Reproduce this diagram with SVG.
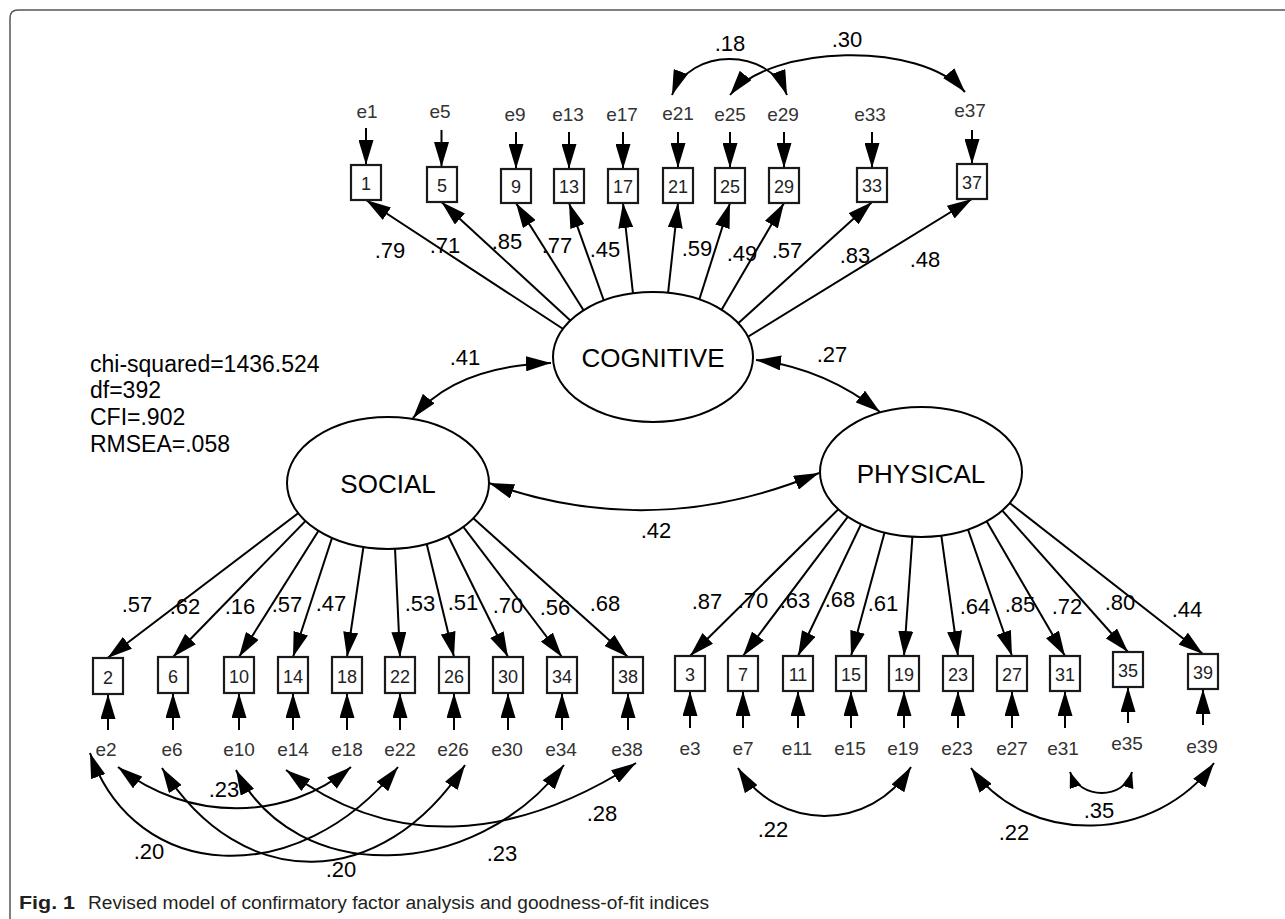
<svg xmlns="http://www.w3.org/2000/svg" width="1285" height="919" viewBox="0 0 1285 919">
<defs>
<marker id="ah" viewBox="0 0 25 15" refX="25" refY="7.5" markerWidth="25" markerHeight="15" markerUnits="userSpaceOnUse" orient="auto-start-reverse"><path d="M0,0 L25,7.5 L0,15 Z" fill="#000"/></marker>
<marker id="ahs" viewBox="0 0 16 12" refX="16" refY="6" markerWidth="16" markerHeight="12" markerUnits="userSpaceOnUse" orient="auto-start-reverse"><path d="M0,0 L16,6 L0,12 Z" fill="#000"/></marker>
<style>
.frame{fill:none;stroke:#555;stroke-width:1.5}
.ln{fill:none;stroke:#000;stroke-width:2}
.arr{marker-end:url(#ah)}
.cov{marker-start:url(#ah);marker-end:url(#ah)}
.covs{marker-start:url(#ahs);marker-end:url(#ahs)}
.box{fill:#fff;stroke:#1a1a1a;stroke-width:2.2}
.lat{fill:#fff;stroke:#000;stroke-width:2}
text{font-family:"Liberation Sans",Arial,sans-serif}
.tb{font-size:18px;fill:#222;text-anchor:middle}
.te{font-size:19px;fill:#333;text-anchor:middle}
.tw{font-size:22px;fill:#000;text-anchor:middle}
.tl{font-size:26px;fill:#000;text-anchor:middle}
.ts{font-size:23px;fill:#000}
.cap{font-size:18px;fill:#231f20}
</style>
</defs>
<rect width="1285" height="919" fill="#fff"/>
<path class="frame" d="M10,919 L10,18 Q10,10 18,10 L1285,10"/>

<g id="connectors">
<path class="ln arr" d="M366,128 V165"/>
<path class="ln arr" d="M441.5,130 V167"/>
<path class="ln arr" d="M516,132 V169"/>
<path class="ln arr" d="M569,132 V169"/>
<path class="ln arr" d="M623,132 V169"/>
<path class="ln arr" d="M678,132 V168"/>
<path class="ln arr" d="M730,132 V168"/>
<path class="ln arr" d="M784,132 V168"/>
<path class="ln arr" d="M872,132 V168"/>
<path class="ln arr" d="M972,130 V164"/>
<path class="ln arr" d="M606,357 L366,200"/>
<path class="ln arr" d="M610,357 L441.5,202"/>
<path class="ln arr" d="M613,357 L516,203"/>
<path class="ln arr" d="M624,357 L569,203"/>
<path class="ln arr" d="M640,357 L623,203"/>
<path class="ln arr" d="M661,357 L678,203"/>
<path class="ln arr" d="M681,357 L730,203"/>
<path class="ln arr" d="M694,357 L784,203"/>
<path class="ln arr" d="M701,357 L872,202"/>
<path class="ln arr" d="M715,357 L972,199"/>
<path class="ln cov" d="M672,95 C690,47 769,47 787,95"/>
<path class="ln cov" d="M730,95 C770,45 920,40 965,92"/>
<path class="ln cov" d="M413,418 Q455,366 551,363"/>
<path class="ln cov" d="M756,360 Q824,368 880,412"/>
<path class="ln cov" d="M489,483 Q654,542 819,473"/>
<path class="ln arr" d="M338,483 L107.5,658"/>
<path class="ln arr" d="M342.5,483 L173,657"/>
<path class="ln arr" d="M348.6,483 L239,657"/>
<path class="ln arr" d="M350,483 L293,657"/>
<path class="ln arr" d="M373,483 L347,657"/>
<path class="ln arr" d="M392,483 L400,657"/>
<path class="ln arr" d="M412,483 L454,657"/>
<path class="ln arr" d="M422,483 L508,657"/>
<path class="ln arr" d="M430,483 L562,657"/>
<path class="ln arr" d="M434,483 L628,657"/>
<path class="ln arr" d="M876,472 L690,656"/>
<path class="ln arr" d="M881.5,472 L743,656"/>
<path class="ln arr" d="M886,472 L798,656"/>
<path class="ln arr" d="M901,472 L851,656"/>
<path class="ln arr" d="M917,472 L904,656"/>
<path class="ln arr" d="M932.5,472 L958,656"/>
<path class="ln arr" d="M948,472 L1012,656"/>
<path class="ln arr" d="M958,472 L1065,656"/>
<path class="ln arr" d="M968,472 L1128,652"/>
<path class="ln arr" d="M970,472 L1203,654"/>
<path class="ln arr" d="M108,730 V694"/>
<path class="ln arr" d="M173,730 V693"/>
<path class="ln arr" d="M239,730 V693"/>
<path class="ln arr" d="M293,730 V693"/>
<path class="ln arr" d="M347,730 V693"/>
<path class="ln arr" d="M400,730 V693"/>
<path class="ln arr" d="M454,730 V693"/>
<path class="ln arr" d="M508,730 V693"/>
<path class="ln arr" d="M562,730 V693"/>
<path class="ln arr" d="M628,730 V693"/>
<path class="ln arr" d="M690,728 V691"/>
<path class="ln arr" d="M743,728 V691"/>
<path class="ln arr" d="M798,728 V691"/>
<path class="ln arr" d="M851,728 V691"/>
<path class="ln arr" d="M904,728 V691"/>
<path class="ln arr" d="M958,728 V691"/>
<path class="ln arr" d="M1012,728 V691"/>
<path class="ln arr" d="M1065,728 V691"/>
<path class="ln arr" d="M1128,723 V687"/>
<path class="ln arr" d="M1203,725 V689"/>
<path class="ln cov" d="M118,767 C188,822 286,822 351,767"/>
<path class="ln cov" d="M90,753 C135,883 298,892 398,767"/>
<path class="ln cov" d="M162,768 C242,895 382,892 465,765"/>
<path class="ln cov" d="M236,770 C296,887 474,882 564,765"/>
<path class="ln cov" d="M286,770 C391,850 511,843 636,763"/>
<path class="ln cov" d="M738,768 C778,832 871,832 911,767"/>
<path class="ln cov" d="M971,768 C1029,848 1156,843 1214,763"/>
<path class="ln covs" d="M1070,772 C1080,800 1124,800 1132,772"/>
</g>

<g id="weights">
<text class="tw" x="390" y="258">.79</text>
<text class="tw" x="445" y="253">.71</text>
<text class="tw" x="507" y="249">.85</text>
<text class="tw" x="557" y="253">.77</text>
<text class="tw" x="605" y="257">.45</text>
<text class="tw" x="697" y="256">.59</text>
<text class="tw" x="742" y="261">.49</text>
<text class="tw" x="787" y="258">.57</text>
<text class="tw" x="855" y="263">.83</text>
<text class="tw" x="925" y="267">.48</text>
<text class="tw" x="730" y="51">.18</text>
<text class="tw" x="847" y="47">.30</text>
<text class="tw" x="465" y="365">.41</text>
<text class="tw" x="832" y="362">.27</text>
<text class="tw" x="656" y="538">.42</text>
<text class="tw" x="137" y="612">.57</text>
<text class="tw" x="185" y="614">.62</text>
<text class="tw" x="240" y="614">.16</text>
<text class="tw" x="287" y="612">.57</text>
<text class="tw" x="331" y="611">.47</text>
<text class="tw" x="420" y="611">.53</text>
<text class="tw" x="463" y="610">.51</text>
<text class="tw" x="508" y="613">.70</text>
<text class="tw" x="555" y="615">.56</text>
<text class="tw" x="605" y="611">.68</text>
<text class="tw" x="707" y="609">.87</text>
<text class="tw" x="753" y="608">.70</text>
<text class="tw" x="795" y="608">.63</text>
<text class="tw" x="840" y="607">.68</text>
<text class="tw" x="883" y="611">.61</text>
<text class="tw" x="975" y="614">.64</text>
<text class="tw" x="1020" y="612">.85</text>
<text class="tw" x="1067" y="614">.72</text>
<text class="tw" x="1120" y="610">.80</text>
<text class="tw" x="1187" y="617">.44</text>
<text class="tw" x="224" y="797">.23</text>
<text class="tw" x="149" y="859">.20</text>
<text class="tw" x="341" y="877">.20</text>
<text class="tw" x="502" y="861">.23</text>
<text class="tw" x="602" y="821">.28</text>
<text class="tw" x="773" y="837">.22</text>
<text class="tw" x="1014" y="840">.22</text>
<text class="tw" x="1099" y="818">.35</text>
</g>

<g id="COGNITIVE"><ellipse class="lat" cx="653" cy="357" rx="100" ry="65"/><text class="tl" x="653" y="367">COGNITIVE</text></g>
<g id="SOCIAL"><ellipse class="lat" cx="388" cy="483" rx="101" ry="66"/><text class="tl" x="388" y="493">SOCIAL</text></g>
<g id="PHYSICAL"><ellipse class="lat" cx="921" cy="472" rx="101" ry="65"/><text class="tl" x="921" y="483">PHYSICAL</text></g>

<g id="v1"><rect class="box" x="351" y="165" width="30" height="35"/><text class="tb" x="366" y="190">1</text></g>
<g id="v5"><rect class="box" x="427" y="167" width="30" height="35"/><text class="tb" x="442" y="192">5</text></g>
<g id="v9"><rect class="box" x="501" y="169" width="30" height="34"/><text class="tb" x="516" y="193">9</text></g>
<g id="v13"><rect class="box" x="554" y="169" width="30" height="34"/><text class="tb" x="569" y="193">13</text></g>
<g id="v17"><rect class="box" x="608" y="169" width="30" height="34"/><text class="tb" x="623" y="193">17</text></g>
<g id="v21"><rect class="box" x="663" y="168" width="30" height="35"/><text class="tb" x="678" y="193">21</text></g>
<g id="v25"><rect class="box" x="715" y="168" width="30" height="35"/><text class="tb" x="730" y="193">25</text></g>
<g id="v29"><rect class="box" x="769" y="168" width="30" height="35"/><text class="tb" x="784" y="193">29</text></g>
<g id="v33"><rect class="box" x="857" y="168" width="30" height="34"/><text class="tb" x="872" y="192">33</text></g>
<g id="v37"><rect class="box" x="957" y="164" width="30" height="35"/><text class="tb" x="972" y="189">37</text></g>

<g id="v2"><rect class="box" x="93" y="658" width="30" height="36"/><text class="tb" x="108" y="684">2</text></g>
<g id="v6"><rect class="box" x="158" y="657" width="30" height="36"/><text class="tb" x="173" y="683">6</text></g>
<g id="v10"><rect class="box" x="224" y="657" width="30" height="36"/><text class="tb" x="239" y="683">10</text></g>
<g id="v14"><rect class="box" x="278" y="657" width="30" height="36"/><text class="tb" x="293" y="683">14</text></g>
<g id="v18"><rect class="box" x="332" y="657" width="30" height="36"/><text class="tb" x="347" y="683">18</text></g>
<g id="v22"><rect class="box" x="385" y="657" width="30" height="36"/><text class="tb" x="400" y="683">22</text></g>
<g id="v26"><rect class="box" x="439" y="657" width="30" height="36"/><text class="tb" x="454" y="683">26</text></g>
<g id="v30"><rect class="box" x="493" y="657" width="30" height="36"/><text class="tb" x="508" y="683">30</text></g>
<g id="v34"><rect class="box" x="547" y="657" width="30" height="36"/><text class="tb" x="562" y="683">34</text></g>
<g id="v38"><rect class="box" x="613" y="657" width="30" height="36"/><text class="tb" x="628" y="683">38</text></g>

<g id="v3"><rect class="box" x="675" y="656" width="30" height="35"/><text class="tb" x="690" y="681">3</text></g>
<g id="v7"><rect class="box" x="728" y="656" width="30" height="35"/><text class="tb" x="743" y="681">7</text></g>
<g id="v11"><rect class="box" x="783" y="656" width="30" height="35"/><text class="tb" x="798" y="681">11</text></g>
<g id="v15"><rect class="box" x="836" y="656" width="30" height="35"/><text class="tb" x="851" y="681">15</text></g>
<g id="v19"><rect class="box" x="889" y="656" width="30" height="35"/><text class="tb" x="904" y="681">19</text></g>
<g id="v23"><rect class="box" x="943" y="656" width="30" height="35"/><text class="tb" x="958" y="681">23</text></g>
<g id="v27"><rect class="box" x="997" y="656" width="30" height="35"/><text class="tb" x="1012" y="681">27</text></g>
<g id="v31"><rect class="box" x="1050" y="656" width="30" height="35"/><text class="tb" x="1065" y="681">31</text></g>
<g id="v35"><rect class="box" x="1113" y="652" width="30" height="35"/><text class="tb" x="1128" y="677">35</text></g>
<g id="v39"><rect class="box" x="1188" y="654" width="30" height="35"/><text class="tb" x="1203" y="679">39</text></g>

<g id="e1"><text class="te" x="367" y="118">e1</text></g>
<g id="e5"><text class="te" x="440" y="118">e5</text></g>
<g id="e9"><text class="te" x="515" y="121">e9</text></g>
<g id="e13"><text class="te" x="568" y="121">e13</text></g>
<g id="e17"><text class="te" x="622" y="121">e17</text></g>
<g id="e21"><text class="te" x="678" y="120">e21</text></g>
<g id="e25"><text class="te" x="730" y="121">e25</text></g>
<g id="e29"><text class="te" x="783" y="121">e29</text></g>
<g id="e33"><text class="te" x="870" y="121">e33</text></g>
<g id="e37"><text class="te" x="970" y="117">e37</text></g>

<g id="e2"><text class="te" x="106" y="756">e2</text></g>
<g id="e6"><text class="te" x="172" y="756">e6</text></g>
<g id="e10"><text class="te" x="239" y="756">e10</text></g>
<g id="e14"><text class="te" x="293" y="756">e14</text></g>
<g id="e18"><text class="te" x="347" y="756">e18</text></g>
<g id="e22"><text class="te" x="400" y="756">e22</text></g>
<g id="e26"><text class="te" x="453" y="756">e26</text></g>
<g id="e30"><text class="te" x="507" y="756">e30</text></g>
<g id="e34"><text class="te" x="561" y="756">e34</text></g>
<g id="e38"><text class="te" x="627" y="756">e38</text></g>
<g id="e3"><text class="te" x="690" y="755">e3</text></g>
<g id="e7"><text class="te" x="743" y="755">e7</text></g>
<g id="e11"><text class="te" x="797" y="755">e11</text></g>
<g id="e15"><text class="te" x="850" y="755">e15</text></g>
<g id="e19"><text class="te" x="903" y="755">e19</text></g>
<g id="e23"><text class="te" x="957" y="755">e23</text></g>
<g id="e27"><text class="te" x="1012" y="755">e27</text></g>
<g id="e31"><text class="te" x="1063" y="755">e31</text></g>
<g id="e35"><text class="te" x="1127" y="750">e35</text></g>
<g id="e39"><text class="te" x="1202" y="753">e39</text></g>

<g id="fit">
<text class="ts" x="90" y="372">chi-squared=1436.524</text>
<text class="ts" x="90" y="398">df=392</text>
<text class="ts" x="90" y="425">CFI=.902</text>
<text class="ts" x="90" y="452">RMSEA=.058</text>
</g>

<g id="caption">
<text class="cap" x="19" y="909" font-weight="bold" textLength="56" lengthAdjust="spacingAndGlyphs">Fig. 1</text>
<text class="cap" x="88" y="909" textLength="621" lengthAdjust="spacingAndGlyphs">Revised model of confirmatory factor analysis and goodness-of-fit indices</text>
</g>
</svg>
